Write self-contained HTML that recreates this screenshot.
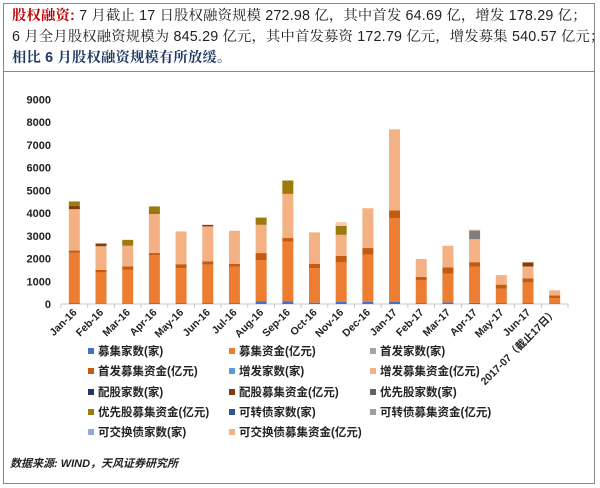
<!DOCTYPE html>
<html><head><meta charset="utf-8">
<style>
html,body{margin:0;padding:0;background:#fff;}
body{width:600px;height:488px;position:relative;overflow:hidden;font-family:"Liberation Sans","Noto Sans CJK SC",sans-serif;}
#frame{position:absolute;left:3px;top:3px;width:592px;height:481px;border:1px solid #8a8a8a;box-sizing:border-box;}
#hdr{position:absolute;left:3px;top:3px;width:592px;height:69px;border:1px solid #8a8a8a;box-sizing:border-box;padding:2px 0 0 8px;font-size:14.3px;letter-spacing:0.2px;line-height:21px;color:#222;font-family:"Liberation Sans","Noto Serif CJK SC",serif;white-space:nowrap;}
.red{color:#c00000;font-weight:bold;}
.blue{color:#1f3864;font-weight:bold;}
#src{position:absolute;left:10px;top:455px;font-size:11px;font-style:italic;color:#222;font-weight:bold;}
svg text{font-family:"Liberation Sans","Noto Sans CJK SC",sans-serif;}
</style></head><body>
<div id="frame"></div>
<div id="hdr">
<div><span class="red">股权融资:</span> 7 月截止 17 日股权融资规模 272.98 亿，其中首发 64.69 亿，增发 178.29 亿；</div>
<div>6 月全月股权融资规模为 845.29 亿元，其中首发募资 172.79 亿元，增发募集 540.57 亿元；</div>
<div class="blue">相比 6 月股权融资规模有所放缓。</div>
</div>
<svg id="chart" width="600" height="488" style="position:absolute;left:0;top:0"></svg>
<div id="src">数据来源: WIND，天风证券研究所</div>
<script>
const categories=["Jan-16","Feb-16","Mar-16","Apr-16","May-16","Jun-16","Jul-16","Aug-16","Sep-16","Oct-16","Nov-16","Dec-16","Jan-17","Feb-17","Mar-17","Apr-17","May-17","Jun-17","2017-07（截止17日）"];
const countVals=[40,30,30,40,40,40,40,110,110,60,90,90,90,40,70,50,40,40,30];
const mainVals=[2210,1360,1470,2100,1540,1690,1610,1810,2640,1520,1740,2080,3690,1000,1260,1600,630,910,230];
const ipoVals=[100,110,150,100,170,140,120,320,150,190,290,290,330,150,280,190,180,180,120];
const seoVals=[1820,1040,910,1730,1440,1540,1450,1240,1940,1380,920,1750,3570,790,950,1010,420,520,220];
const rightsVals=[150,120,0,50,0,70,0,0,0,0,0,0,0,0,0,0,0,180,0];
const prefVals=[190,0,260,270,0,0,0,320,590,0,400,0,0,0,0,0,0,0,0];
const convVals=[0,0,0,0,0,0,0,0,0,0,0,0,0,0,0,380,0,0,0];
const exchVals=[0,0,0,0,0,0,0,0,0,0,160,0,0,0,0,40,0,0,0];
const yTicks=[0,1000,2000,3000,4000,5000,6000,7000,8000,9000];
const series=[
 {name:"count",vals:countVals,color:"#4472c4"},
 {name:"raised",vals:mainVals,color:"#ed7d31"},
 {name:"ipo",vals:ipoVals,color:"#c55a11"},
 {name:"seo",vals:seoVals,color:"#f4b183"},
 {name:"rights",vals:rightsVals,color:"#843c0c"},
 {name:"pref",vals:prefVals,color:"#9c7b0e"},
 {name:"conv",vals:convVals,color:"#7f7f7f"},
 {name:"exch",vals:exchVals,color:"#f8cbad"}];
const legendItems=[["募集家数(家)","#4472c4"],["募集资金(亿元)","#ed7d31"],["首发家数(家)","#a5a5a5"],
["首发募集资金(亿元)","#c55a11"],["增发家数(家)","#5b9bd5"],["增发募集资金(亿元)","#f4b183"],
["配股家数(家)","#203864"],["配股募集资金(亿元)","#843c0c"],["优先股家数(家)","#636363"],
["优先股募集资金(亿元)","#9c7b0e"],["可转债家数(家)","#2f5597"],["可转债募集资金(亿元)","#9e9e9e"],
["可交换债家数(家)","#8faadc"],["可交换债募集资金(亿元)","#f4b183"]];
const svg=document.getElementById('chart');
const NS="http://www.w3.org/2000/svg";
const X0=61,X1=568,Y0=304,Y1=99.3,YMAX=9000;
const band=(X1-X0)/categories.length;
const xC=i=>X0+band*(i+0.5);
const y=v=>Y0-(v/YMAX)*(Y0-Y1);
function mk(t,a){const e=document.createElementNS(NS,t);for(const k in a)e.setAttribute(k,a[k]);svg.appendChild(e);return e;}
yTicks.forEach(t=>{const e=mk('text',{x:51,y:y(t)+4,'text-anchor':'end','font-size':'11','font-weight':'bold',fill:'#222'});e.textContent=t;

});
const ax=mk('line',{x1:X0,x2:X1,y1:Y0,y2:Y0,stroke:'#c8c8c8','stroke-width':1});


for(let i=0;i<=categories.length;i++){const t=mk('line',{x1:X0+band*i,x2:X0+band*i,y1:Y0,y2:Y0+4,stroke:'#c8c8c8'});

}
const bw=11;
categories.forEach((c,i)=>{let acc=0;
 series.forEach(s=>{const v=s.vals[i];if(v<=0)return;
  const r=mk('rect',{x:xC(i)-bw/2,y:y(acc+v),width:bw,height:y(acc)-y(acc+v),fill:s.color});
  
  
  acc+=v;});
 const lx=xC(i)+3,ly=Y0+9;
 const tx=mk('text',{x:lx,y:ly,'text-anchor':'end','font-size':'10.5','font-weight':'bold',fill:'#222',transform:`rotate(-45 ${lx} ${ly})`});
 tx.textContent=c;
 
 
});
const colX=[88,229,370],rowY=[352,372,393,413,433];
legendItems.forEach((it,k)=>{const cx=colX[k%3],cy=rowY[Math.floor(k/3)];
 const r=mk('rect',{x:cx,y:cy-4,width:6,height:6,fill:it[1]});
 
 
 const t=mk('text',{x:cx+10,y:cy+3,'font-size':'11.5','font-weight':'bold',fill:'#222'});
 t.textContent=it[0];
 
 
});
</script>
</body></html>
